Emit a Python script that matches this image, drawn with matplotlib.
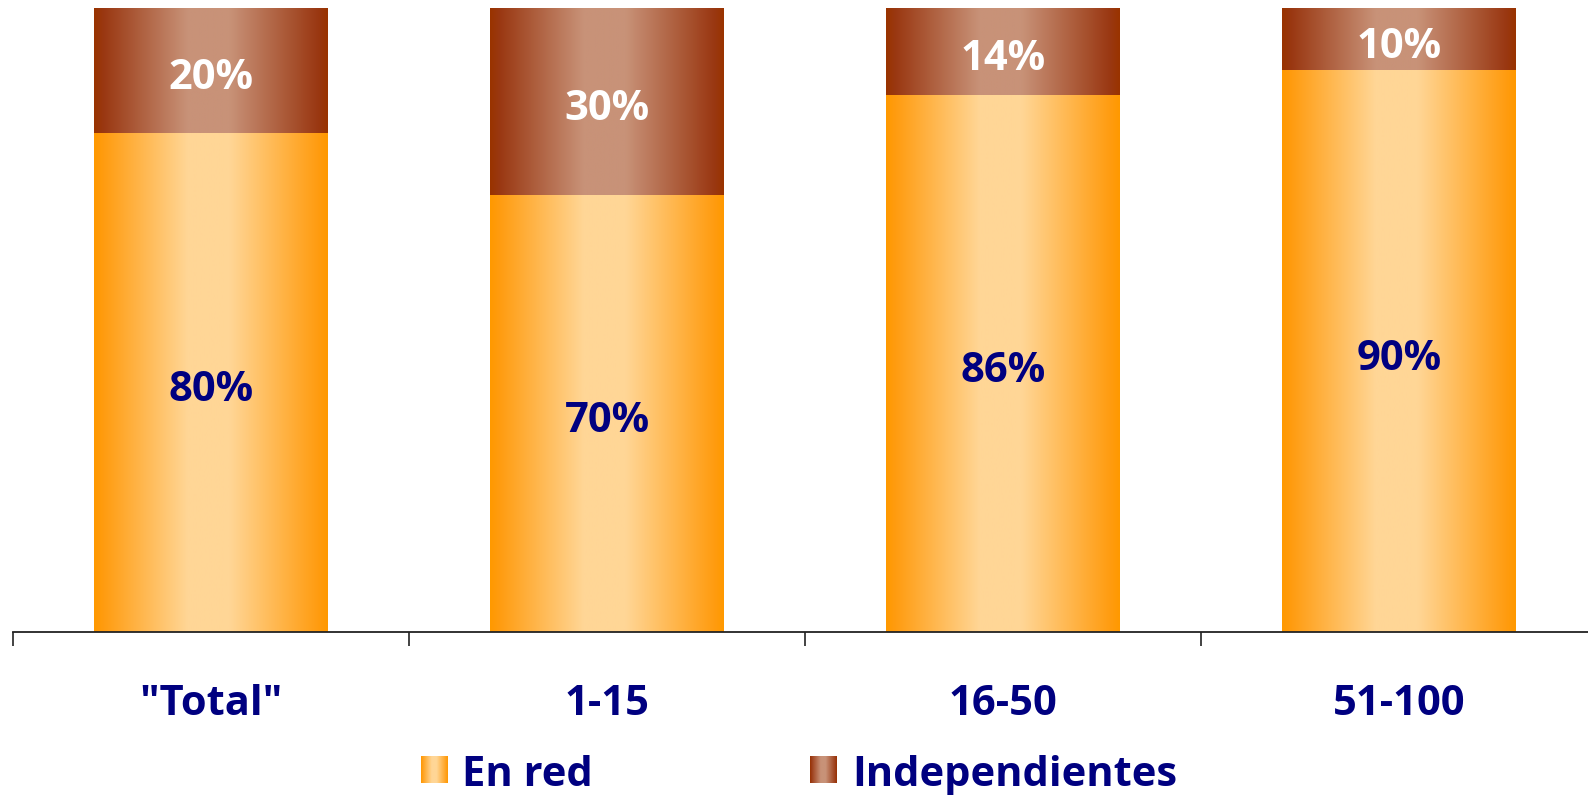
import numpy as np
import matplotlib.pyplot as plt
from matplotlib.colors import LinearSegmentedColormap
from matplotlib.transforms import blended_transform_factory, ScaledTranslation

# Data
categories = ['"Total"', "1-15", "16-50", "51-100"]
en_red = [80, 70, 86, 90]
independientes = [20, 30, 14, 10]
series_names = ["En red", "Independientes"]

navy = "#000080"
font = "Open Sans"

# horizontal gradients: dark edges, light centre
stops = [0.0, 0.04, 0.40, 0.58, 0.96, 1.0]
orange = LinearSegmentedColormap.from_list(
    "orange", list(zip(stops, ["#FF9900", "#FF9C10", "#FFD696", "#FFD696", "#FF9C10", "#FF9900"])))
brown = LinearSegmentedColormap.from_list(
    "brown", list(zip(stops, ["#993300", "#9A3812", "#C89278", "#C89278", "#9A3812", "#993300"])))
grad = np.linspace(0, 1, 256).reshape(1, -1)

fig = plt.figure(figsize=(15.88, 7.95), dpi=100)
fig.patch.set_facecolor("white")
ax = fig.add_axes([13 / 1588, 163 / 795, 1584 / 1588, 624 / 795])

x = np.arange(len(categories))
width = 0.59
bars1 = ax.bar(x, en_red, width, color="none", edgecolor="none")
bars2 = ax.bar(x, independientes, width, bottom=en_red, color="none", edgecolor="none")

for bars, cmap, txtcolor in [(bars1, orange, navy), (bars2, brown, "white")]:
    for rect in bars:
        x0, y0 = rect.get_x(), rect.get_y()
        w, h = rect.get_width(), rect.get_height()
        ax.imshow(grad, extent=[x0, x0 + w, y0, y0 + h], aspect="auto", cmap=cmap, zorder=2)
        off = ScaledTranslation(0, -0.185, fig.dpi_scale_trans)
        ax.text(x0 + w / 2, y0 + h / 2, f"{h:.0f}%", ha="center", va="baseline",
                color=txtcolor, fontsize=30, fontweight="bold", family=font,
                transform=ax.transData + off, zorder=3)

ax.set_xlim(-0.5, 3.5)
ax.set_ylim(0, 100)
for s in ["top", "right", "left"]:
    ax.spines[s].set_visible(False)
ax.spines["bottom"].set_color("#222222")
ax.spines["bottom"].set_linewidth(1.3)
ax.set_yticks([])
ax.set_xticks(np.arange(len(categories) + 1) - 0.5)
ax.set_xticklabels([])
ax.tick_params(axis="x", direction="out", length=10, width=1.2, color="#222222")

# category labels
trans = blended_transform_factory(ax.transData, fig.transFigure)
for xi, lab in zip(x, categories):
    ax.text(xi, (795 - 715) / 795, lab, ha="center", va="baseline", transform=trans,
            color=navy, fontsize=30, fontweight="bold", family=font)

# legend
for (mx, tx), name, cmap in zip([(421, 462), (810, 852)], series_names, [orange, brown]):
    lax = fig.add_axes([mx / 1588, (795 - 783) / 795, 27 / 1588, 27 / 795])
    lax.imshow(grad, aspect="auto", cmap=cmap)
    lax.axis("off")
    fig.text(tx / 1588, (795 - 786) / 795, name, ha="left", va="baseline",
             color=navy, fontsize=30, fontweight="bold", family=font)

fig.savefig("out.png", dpi=100)
